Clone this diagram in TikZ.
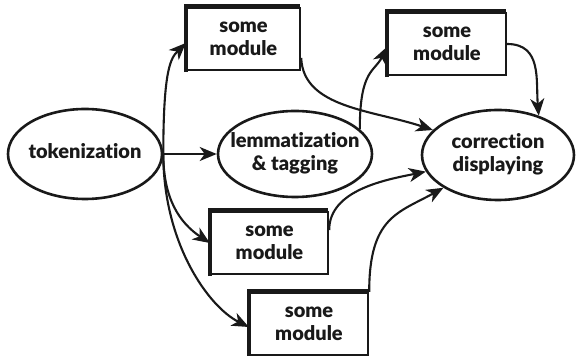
\documentclass[tikz,border=0pt]{standalone}
\usepackage{fontspec}
\setmainfont{Lato}[BoldFont={Lato Black}, Ligatures=NoCommon]
\usetikzlibrary{shapes.geometric,arrows.meta,calc}
\newcommand\zwtext[1]{\makebox[0pt]{\begin{tabular}{@{}c@{}}#1\end{tabular}}}
\tikzset{
  lbl/.style={font=\fontsize{20}{23}\selectfont\bfseries, align=center, text=black!90},
  ell/.style={lbl, ellipse, draw=black!90, line width=2.6pt, inner sep=0pt},
  modbox/.style={lbl, rectangle, draw=black!90, line width=2.4pt, inner sep=0pt},
  modedge/.style={draw=black!90, line width=4.6pt},
  arr/.style={draw=black!90, line width=2.1pt, -{Stealth[length=17pt,width=14pt,inset=5pt]}}
}
\begin{document}
\begin{tikzpicture}[x=1pt,y=1pt]
\useasboundingbox (0,0) rectangle (576,356);
\node[ell, minimum width=154, minimum height=90] (tok) at (85,202) {\zwtext{tokenization}};
\node[ell, minimum width=154, minimum height=86] (lem) at (295,202) {\zwtext{lemmatization\\\& tagging}};
\node[ell, minimum width=152, minimum height=90] (cor) at (498,201) {\zwtext{correction\\displaying}};
\node[modbox, minimum width=113, minimum height=62] (m1) at (243.5,317) {some\\module};
\node[modbox, minimum width=118, minimum height=62] (m2) at (447,312) {some\\module};
\node[modbox, minimum width=117, minimum height=62] (m3) at (269.5,113) {some\\module};
\node[modbox, minimum width=118, minimum height=62] (m4) at (309,32) {some\\module};
\foreach \m in {m1,m2,m3,m4}
  \draw[modedge] ([yshift=-1pt]\m.south west) |- ([xshift=-1pt]\m.north east);

\draw[arr] (tok.east) -- (lem.west);
\draw[arr] (tok.east) .. controls +(0,85) and +(-15,-15) .. ([yshift=-4pt]m1.west);
\draw[arr] (tok.east) .. controls +(0,-45) and +(-30,20) .. (m3.west);
\draw[arr] (tok.east) .. controls +(0,-90) and +(-40,20) .. ([yshift=-3pt]m4.west);
\draw[arr] ($(m1.east)+(0,-19)$) .. controls +(2,-50) and +(-60,20) .. (cor.159);
\draw[arr] (lem.21) .. controls +(0,60) and +(-12,-25) .. ([yshift=-3pt]m2.west);
\draw[arr] (m2.east) .. controls +(35,0) and +(-3,35) .. (cor.44);
\draw[arr] ($(m3.east)+(0,13)$) .. controls +(0,40) and +(-40,-8) .. (cor.193);
\draw[arr] (m4.north east) .. controls +(0,75) and +(-45,-25) .. (cor.211);
\end{tikzpicture}
\end{document}
